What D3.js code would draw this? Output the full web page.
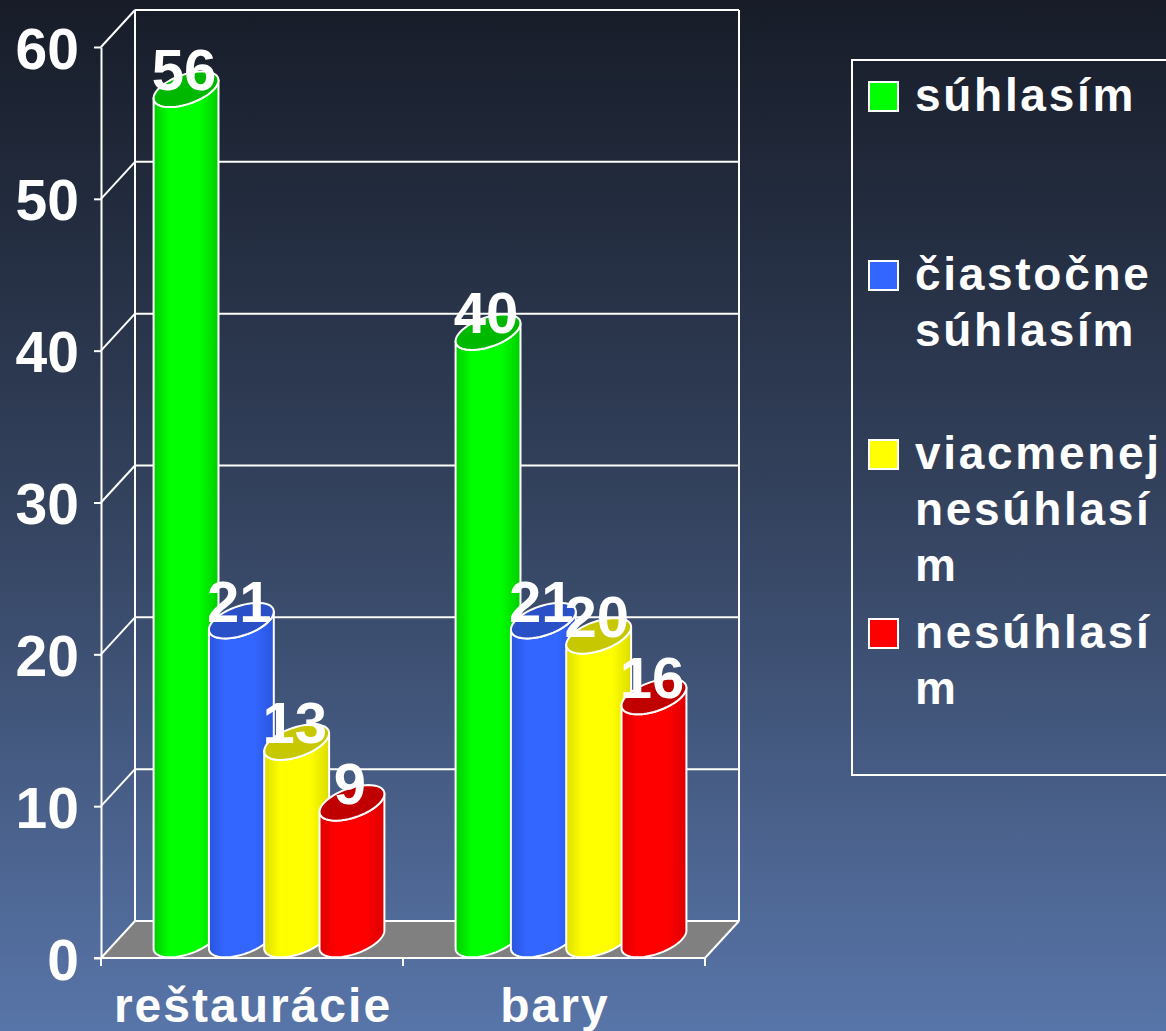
<!DOCTYPE html>
<html>
<head>
<meta charset="utf-8">
<script src="https://cdn.jsdelivr.net/npm/d3@7"></script>
<style>
  html, body { margin: 0; padding: 0; overflow: hidden; }
  svg { display: block; }
  text { font-family: "Liberation Sans", Arial, sans-serif; font-weight: bold; fill: #fff; }
</style>
</head>
<body>
<svg id="chart"></svg>
<script>
var width = 1166;
var height = 1031;

// data
var categories = ["reštaurácie", "bary"];
var series = ["súhlasím", "čiastočne súhlasím", "viacmenej nesúhlasím", "nesúhlasím"];
var restauracieValues = [56, 21, 13, 9];
var baryValues = [40, 21, 20, 16];
var yTicks = [0, 10, 20, 30, 40, 50, 60];
var legendLines = [["súhlasím"], ["čiastočne", "súhlasím"], ["viacmenej", "nesúhlasí", "m"], ["nesúhlasí", "m"]];
var bodyColors = ["#00ff00", "#3366ff", "#ffff00", "#ff0000"];
var sideColors = ["#00cc00", "#2a55dd", "#dddd00", "#dd0000"];
var topColors = ["#00b800", "#2a50c8", "#c8c800", "#c00000"];

var tableRows = [
    { cat: categories[0], values: restauracieValues },
    { cat: categories[1], values: baryValues }
];

// depth offset of the 3d box
var DX = 34, DY = 37;

var svg = d3.select("svg")
    .attr("width", width)
    .attr("height", height);

var defs = svg.append("defs");
var bg = defs.append("linearGradient").attr("id", "bg")
    .attr("x1", 0).attr("y1", 0).attr("x2", 0).attr("y2", 1);
bg.append("stop").attr("offset", 0).attr("stop-color", "#171c28");
bg.append("stop").attr("offset", 0.5).attr("stop-color", "#34435f");
bg.append("stop").attr("offset", 1).attr("stop-color", "#5875a9");

series.forEach(function(s, i) {
    var g = defs.append("linearGradient").attr("id", "cyl" + i)
        .attr("x1", 0).attr("y1", 0).attr("x2", 1).attr("y2", 0);
    g.append("stop").attr("offset", 0).attr("stop-color", sideColors[i]);
    g.append("stop").attr("offset", 0.25).attr("stop-color", bodyColors[i]);
    g.append("stop").attr("offset", 0.7).attr("stop-color", bodyColors[i]);
    g.append("stop").attr("offset", 1).attr("stop-color", sideColors[i]);
});

svg.append("rect").attr("width", width).attr("height", height).attr("fill", "url(#bg)");

var y = d3.scaleLinear().domain([0, 60]).range([958, 47]);
var x0 = d3.scaleBand().domain(categories).range([101, 705]);
var x1 = d3.scalePoint().domain(series).range([0, x0.bandwidth()]).padding(1.23);

var x0L = x0.range()[0], x0R = x0.range()[1];

// floor
svg.append("polygon")
    .attr("points", [[x0L, y(0)], [x0R, y(0)], [x0R + DX, y(0) - DY], [x0L + DX, y(0) - DY]].join(" "))
    .attr("fill", "#808080");

var grid = svg.append("g").attr("stroke", "#fff").attr("stroke-width", 2).attr("fill", "none");
yTicks.forEach(function(t) {
    grid.append("line")
        .attr("x1", x0L + DX).attr("y1", y(t) - DY)
        .attr("x2", x0R + DX).attr("y2", y(t) - DY);
    grid.append("line")
        .attr("x1", x0L).attr("y1", y(t))
        .attr("x2", x0L + DX).attr("y2", y(t) - DY);
});
grid.append("line").attr("x1", x0L + DX).attr("x2", x0L + DX)
    .attr("y1", y(60) - DY).attr("y2", y(0) - DY);
grid.append("line").attr("x1", x0R + DX).attr("x2", x0R + DX)
    .attr("y1", y(60) - DY).attr("y2", y(0) - DY);
grid.append("line").attr("x1", x0R).attr("y1", y(0))
    .attr("x2", x0R + DX).attr("y2", y(0) - DY);

// y axis
var yaxis = d3.axisLeft(y).tickValues(yTicks).tickSize(7).tickSizeOuter(0).tickPadding(15);
var yg = svg.append("g").attr("transform", "translate(" + x0L + ",0)").call(yaxis);
yg.select(".domain").attr("stroke", "#fff").attr("stroke-width", 2);
yg.selectAll(".tick line").attr("stroke", "#fff").attr("stroke-width", 2);
yg.selectAll(".tick text")
    .attr("font-size", 57).attr("font-family", null).attr("fill", "#fff")
    .attr("dy", "0.37em");

// x axis line with ticks on the band boundaries
var xg = svg.append("g").attr("stroke", "#fff").attr("stroke-width", 2);
xg.append("line").attr("x1", x0L - 7).attr("x2", x0R).attr("y1", y(0)).attr("y2", y(0));
var bounds = categories.map(function(c) { return x0(c); }).concat([x0R]);
xg.selectAll(".xt").data(bounds).enter().append("line")
    .attr("x1", function(d) { return d; }).attr("x2", function(d) { return d; })
    .attr("y1", y(0)).attr("y2", y(0) + 8);

svg.append("g").selectAll("text").data(categories).enter().append("text")
    .attr("x", function(d) { return x0(d) + x0.bandwidth() / 2 + 1; })
    .attr("y", 1022)
    .attr("text-anchor", "middle")
    .attr("font-size", 48)
    .attr("letter-spacing", 2)
    .text(function(d) { return d; });

// cylinders
var A = 28, P = 16.4, Q = 17.8;
var th0 = Math.atan2(P, A);
function ellPt(cx, cy, t) {
    return [cx + A * Math.cos(t) + P * Math.sin(t), cy - Q * Math.sin(t)];
}
function arc(cx, cy, from, to, n) {
    var pts = [];
    for (var k = 0; k <= n; k++) {
        pts.push(ellPt(cx, cy, from + (to - from) * k / n));
    }
    return pts;
}
var lineGen = d3.line().curve(d3.curveLinearClosed);

var bars = [];
tableRows.forEach(function(r) {
    r.values.forEach(function(v, i) {
        var X = x0(r.cat) + x1(series[i]);
        bars.push({ cat: r.cat, i: i, v: v, cx: X + DX / 2, cyTop: y(v) - DY / 2, cyBot: y(0) - DY / 2 });
    });
});

var cg = svg.append("g");
bars.forEach(function(b) {
    var body = arc(b.cx, b.cyBot, Math.PI + th0, 2 * Math.PI + th0, 40)
        .concat(arc(b.cx, b.cyTop, th0, th0 - Math.PI, 40));
    cg.append("path").attr("d", lineGen(body))
        .attr("fill", "url(#cyl" + b.i + ")")
        .attr("stroke", "#fff").attr("stroke-width", 2).attr("stroke-linejoin", "round");
    cg.append("path").attr("d", lineGen(arc(b.cx, b.cyTop, 0, 2 * Math.PI, 60)))
        .attr("fill", topColors[b.i])
        .attr("stroke", "#fff").attr("stroke-width", 2);
});

// value labels
svg.append("g").selectAll("text").data(bars).enter().append("text")
    .attr("x", function(d) { return d.cx - 2; })
    .attr("y", function(d) { return d.cyTop + 1; })
    .attr("text-anchor", "middle")
    .attr("font-size", 58)
    .text(function(d) { return d.v; });

// legend
var lg = svg.append("g");
lg.append("rect").attr("x", 852).attr("y", 60).attr("width", 330).attr("height", 715)
    .attr("fill", "none").attr("stroke", "#fff").attr("stroke-width", 2);
var ly = d3.scalePoint().domain(series).range([111, 648]);
series.forEach(function(s, i) {
    var base = ly(s);
    lg.append("rect").attr("x", 869).attr("y", base - 29).attr("width", 29).attr("height", 29)
        .attr("fill", bodyColors[i]).attr("stroke", "#fff").attr("stroke-width", 2);
    legendLines[i].forEach(function(t, j) {
        lg.append("text").attr("x", 915).attr("y", base + j * 56)
            .attr("font-size", 46).attr("letter-spacing", 2.7)
            .text(t);
    });
});
</script>
</body>
</html>
